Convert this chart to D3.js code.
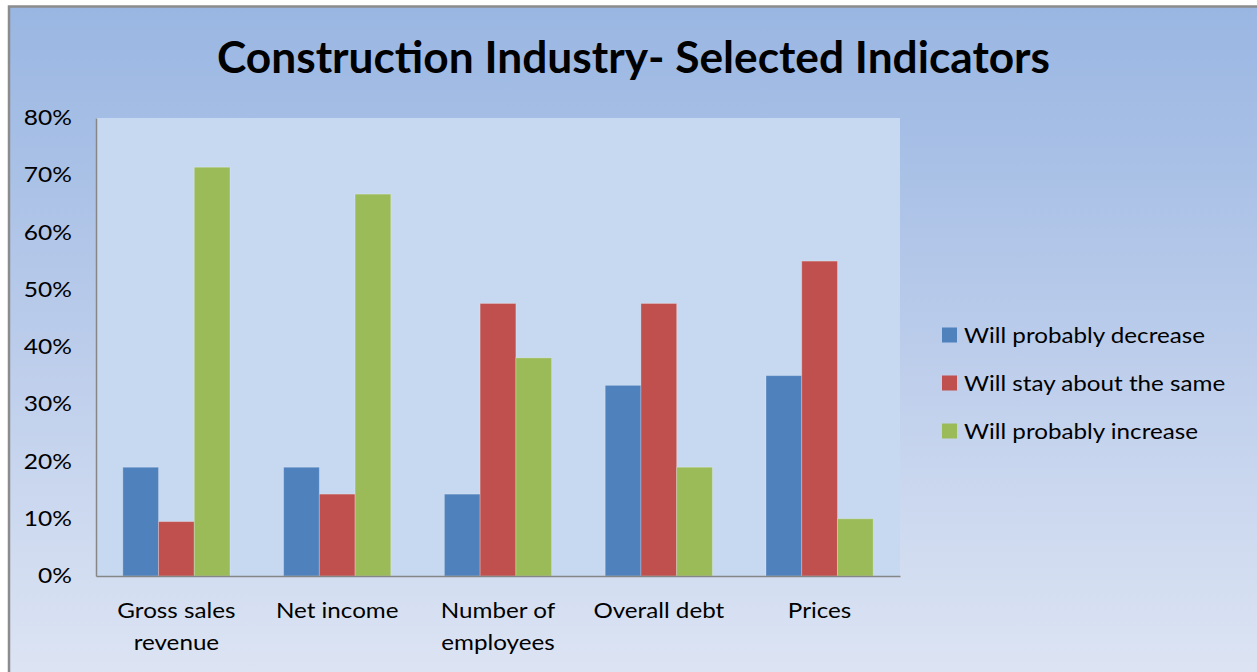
<!DOCTYPE html>
<html>
<head>
<meta charset="utf-8">
<script src="https://cdn.jsdelivr.net/npm/d3@7"></script>
<style>
  html, body { margin: 0; padding: 0; background: #ffffff; }
  svg { display: block; }
  text { font-family: Lato, "Open Sans", sans-serif; fill: #000; }
</style>
</head>
<body>
<svg id="chart" width="1257" height="672"></svg>
<script>
// ---- data ----
const title = "Construction Industry- Selected Indicators";
const categories = ["Gross sales revenue", "Net income", "Number of employees", "Overall debt", "Prices"];
const categoryLines = [["Gross sales", "revenue"], ["Net income"], ["Number of", "employees"], ["Overall debt"], ["Prices"]];
const seriesNames = ["Will probably decrease", "Will stay about the same", "Will probably increase"];
const seriesColors = ["#4f81bd", "#c0504d", "#9bbb59"];
const decrease = [0.19, 0.19, 0.143, 0.333, 0.35];
const same     = [0.095, 0.143, 0.476, 0.476, 0.55];
const increase = [0.714, 0.667, 0.381, 0.19, 0.10];
const yTicks = [0, 0.1, 0.2, 0.3, 0.4, 0.5, 0.6, 0.7, 0.8];

const seriesValues = [decrease, same, increase];

// ---- layout ----
const W = 1257, H = 672;
const plot = { left: 96, right: 900, top: 118, bottom: 576 };
const textStretch = 1.1;

const svg = d3.select("#chart");
const defs = svg.append("defs");
const grad = defs.append("linearGradient").attr("id", "bg").attr("x1", 0).attr("y1", 0).attr("x2", 0).attr("y2", 1);
grad.append("stop").attr("offset", "0%").attr("stop-color", "#99b6e2");
grad.append("stop").attr("offset", "50%").attr("stop-color", "#bccdeb");
grad.append("stop").attr("offset", "100%").attr("stop-color", "#dfe6f4");

// outer chart area (extends past right and bottom of the picture)
svg.append("rect").attr("x", 0).attr("y", 0).attr("width", W).attr("height", H).attr("fill", "#ffffff");
svg.append("rect").attr("x", 9).attr("y", 6.5).attr("width", W + 20).attr("height", H + 20)
  .attr("fill", "url(#bg)").attr("stroke", "#8c8c8c").attr("stroke-width", 2.5);

// plot area
svg.append("rect").attr("x", plot.left).attr("y", plot.top)
  .attr("width", plot.right - plot.left).attr("height", plot.bottom - plot.top)
  .attr("fill", "#c6d9f0");

const x0 = d3.scaleBand().domain(categories).range([plot.left, plot.right])
  .paddingInner(1 / 3).paddingOuter(1 / 6);
const x1 = d3.scaleBand().domain(seriesNames).range([0, x0.bandwidth()]).padding(0);
const y = d3.scaleLinear().domain([0, 0.8]).range([plot.bottom, plot.top]);

// bars
const groups = svg.append("g").selectAll("g").data(categories).join("g")
  .attr("transform", d => `translate(${x0(d)},0)`);
groups.selectAll("rect")
  .data((d, i) => seriesNames.map((s, j) => ({ s, j, v: seriesValues[j][i] })))
  .join("rect")
  .attr("x", d => x1(d.s))
  .attr("y", d => y(d.v))
  .attr("width", x1.bandwidth())
  .attr("height", d => y(0) - y(d.v))
  .attr("fill", d => seriesColors[d.j])
  .attr("stroke", "rgba(255,255,255,0.25)")
  .attr("stroke-width", 1);

// y axis
const yAxis = svg.append("g").attr("transform", `translate(${plot.left},0)`)
  .call(d3.axisLeft(y).tickValues(yTicks).tickFormat(d3.format(".0%")).tickSize(0).tickPadding(24));
yAxis.select(".domain").attr("stroke", "#868686").attr("stroke-width", 1.5);
yAxis.selectAll(".tick text")
  .style("font-size", "21px").style("font-family", "Lato, sans-serif").attr("fill", "#000")
  .attr("x", 0)
  .attr("transform", "translate(-24,0) scale(1.17,1)");

// x axis
const xAxis = svg.append("g").attr("transform", `translate(0,${plot.bottom})`)
  .call(d3.axisBottom(x0).tickSize(0).tickSizeOuter(0).tickFormat(""));
xAxis.select(".domain").attr("stroke", "#868686").attr("stroke-width", 1.5);
xAxis.selectAll(".tick text").remove();
xAxis.selectAll(".tick").append("text")
  .attr("text-anchor", "middle")
  .attr("transform", `scale(${textStretch},1)`)
  .style("font-size", "22px")
  .each(function (d, i) {
    const t = d3.select(this);
    categoryLines[i].forEach((line, k) => {
      t.append("tspan").attr("x", 0).attr("y", 42 + k * 32).text(line);
    });
  });

// title
const titleText = svg.append("text")
  .attr("x", 633.5).attr("y", 73)
  .attr("text-anchor", "middle")
  .style("font-size", "43px").style("font-weight", "bold")
  .text(title);
const tw = titleText.node().getComputedTextLength();
if (Math.abs(tw - 833) > 4) titleText.attr("textLength", 833).attr("lengthAdjust", "spacingAndGlyphs");

// legend
const legend = svg.append("g").attr("transform", "translate(942,335)");
const li = legend.selectAll("g").data(seriesNames).join("g")
  .attr("transform", (d, i) => `translate(0,${i * 48})`);
li.append("rect").attr("x", 0).attr("y", -7.5).attr("width", 15).attr("height", 15)
  .attr("fill", (d, i) => seriesColors[i]);
li.append("text").attr("x", 0).attr("y", 0).attr("dy", "0.36em")
  .attr("transform", `translate(22,0) scale(${textStretch},1)`)
  .style("font-size", "22px").text(d => d);
</script>
</body>
</html>
